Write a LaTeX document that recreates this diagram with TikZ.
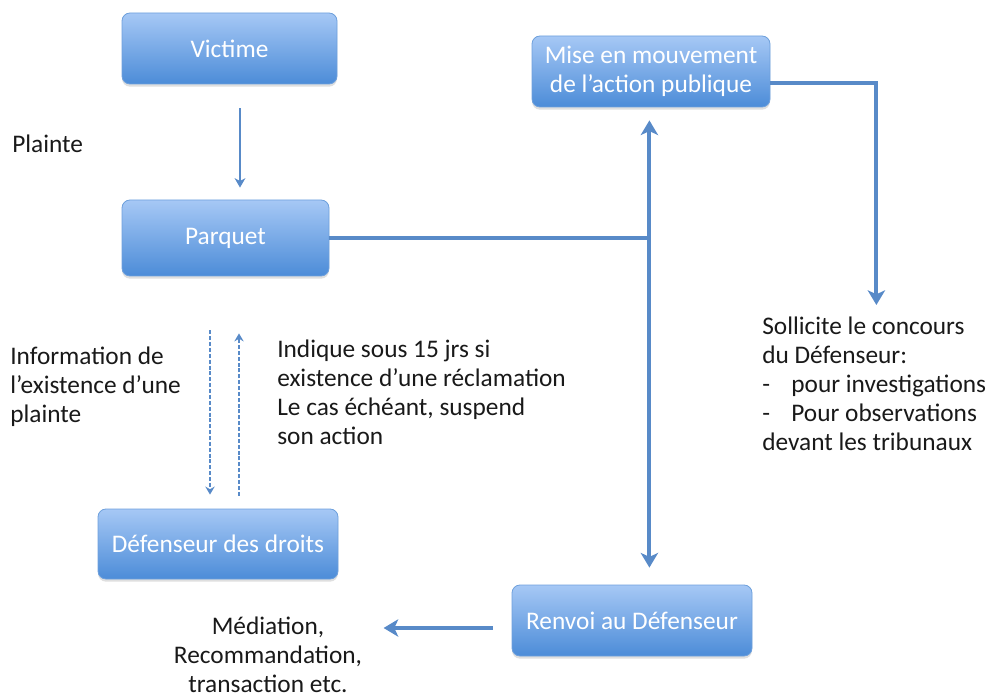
\documentclass[tikz,border=0pt]{standalone}
\usepackage{fontspec}
\setmainfont{Carlito}
\usetikzlibrary{arrows.meta,shadows,calc}
\definecolor{lineblue}{RGB}{88,138,200}
\definecolor{boxtop}{RGB}{166,200,245}
\definecolor{boxbot}{RGB}{76,140,216}
\definecolor{boxedge}{RGB}{110,160,220}
\definecolor{txt}{RGB}{25,25,25}
\begin{document}
\begin{tikzpicture}[x=0.75pt,y=-0.75pt,
  bx/.style={rectangle,rounded corners=6pt,top color=boxtop,bottom color=boxbot,
    draw=boxedge,line width=0.6pt,text=white,font=\fontsize{19}{21.75}\selectfont,
    align=center,inner sep=0pt,
    drop shadow={shadow xshift=0pt,shadow yshift=-2pt,opacity=0.25}},
  lbl/.style={text=txt,font=\fontsize{19}{21.75}\selectfont,inner sep=0pt},
  thick line/.style={draw=lineblue,line width=3pt},
  arrowhd/.style={-{Stealth[length=11pt,width=13pt,inset=3pt]}},
  thin arrow/.style={draw=lineblue,line width=1.6pt,-{Stealth[length=7pt,width=8pt,inset=2pt]}},
  dash arrow/.style={draw=lineblue,line width=2pt,dash pattern=on 3pt off 1.4pt,-{Stealth[length=6pt,width=7pt,inset=2pt]}}
]
\useasboundingbox (0,0) rectangle (989,698);

% boxes
\node[bx,minimum width=215*0.75pt,minimum height=71*0.75pt] (victime) at (229.5,48.5) {Victime};
\node[bx,minimum width=207*0.75pt,minimum height=76*0.75pt] (parquet) at (225.5,238) {Parquet};
\node[bx,minimum width=238*0.75pt,minimum height=71*0.75pt] (mise) at (651,71.5) {Mise en mouvement\\de l’action publique};
\node[bx,minimum width=240*0.75pt,minimum height=70*0.75pt] (def) at (218,544) {Défenseur des droits};
\node[bx,minimum width=240*0.75pt,minimum height=71*0.75pt] (renvoi) at (632,620.5) {Renvoi au Défenseur};

% texts
\node[lbl,anchor=west] (plainte) at (12,144) {Plainte};
\node[lbl,anchor=north west,align=left] (info) at (10,347) {Information de\\l’existence d’une\\plainte};
\node[lbl,anchor=north west,align=left] (indique) at (277,340) {Indique sous 15 jrs si\\existence d’une réclamation\\Le cas échéant, suspend\\son action};
\node[lbl,anchor=north west,align=left] (soll) at (762,317) {Sollicite le concours\\du Défenseur:\\-\hspace{16pt}pour investigations\\-\hspace{16pt}Pour observations\\devant les tribunaux};
\node[lbl,anchor=north,align=center] (med) at (268,617) {Médiation,\\Recommandation,\\transaction etc.};

% coordinates
\coordinate (J) at ($(parquet.east)+(320,0)$);
\coordinate (miseTip) at ($(mise.south)+(-2,13)$);
\coordinate (renvoiTip) at ($(renvoi.north)+(17,-17)$);
\coordinate (R1) at ($(mise.east)+(106,11.5)$);
\coordinate (R2) at ($(R1)+(0,222)$);

% connectors
\draw[thin arrow] ($(victime.south)+(10.5,24)$) -- ($(parquet.north)+(14.5,-12)$);
\draw[thick line] (parquet.east) -- (J);
\draw[thick line,arrowhd] (J) -- (J |- miseTip);
\draw[thick line,arrowhd] (J |- parquet.east) -- (J |- renvoiTip);
\draw[thick line,arrowhd] ($(mise.east)+(0,11.5)$) -- (R1) -- (R2);
\draw[dash arrow] ($(parquet.south)+(-15.5,54)$) -- ($(def.north)+(-8,-14)$);
\draw[dash arrow] ($(def.north)+(21,-13)$) -- ($(parquet.south)+(13.5,57)$);
\draw[thick line,arrowhd] ($(renvoi.west)+(-19,7.5)$) -- ($(renvoi.west)+(-128,7.5)$);
\end{tikzpicture}
\end{document}
